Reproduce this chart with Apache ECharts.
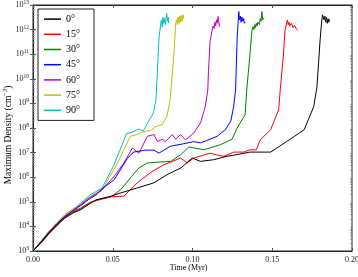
<!DOCTYPE html>
<html><head><meta charset="utf-8">
<script src="https://cdn.jsdelivr.net/npm/echarts@6/dist/echarts.min.js"></script>
<style>html,body{margin:0;padding:0;background:#fff}#c{width:358px;height:277px}</style>
</head><body><div id="c"></div>
<script>
const xTicks = [0, 0.05, 0.10, 0.15, 0.20];
const yMinorTicks = [];
for (let e = 3; e < 13; e++) for (let m = 2; m <= 9; m++) yMinorTicks.push(m * Math.pow(10, e));

const names = ['0°', '15°', '30°', '45°', '60°', '75°', '90°'];
const colors = ['#000000', '#ff0000', '#008000', '#0000ff', '#bf00bf', '#bfbf00', '#00bfbf'];

const t0 =   [0,0.005,0.01,0.015,0.02,0.025,0.03,0.035,0.0395,0.049,0.055,0.065,0.0758,0.084,0.0928,0.0998,0.105,0.113,0.1217,0.1258,0.136,0.149,0.159,0.17,0.176,0.178,0.18,0.181,0.1815,0.182,0.1825,0.183,0.1835,0.184,0.1845,0.185,0.1855,0.186];
const d0 =   [1e3,2.2e3,5.2e3,1.1e4,2.2e4,3.5e4,4.8e4,7.9e4,1.2e5,1.7e5,2.3e5,3.6e5,5.9e5,1.26e6,2.4e6,6.0e6,4.4e6,5.1e6,7.1e6,7.8e6,1.05e7,1.05e7,2.8e7,8.5e7,7.4e8,4.5e9,3.8e11,2.2e12,4.0e12,4.8e12,2.5e12,3.5e12,2.0e12,3.2e12,1.8e12,2.8e12,2.0e12,2.6e12];

const t15 =  [0,0.005,0.01,0.015,0.02,0.025,0.03,0.035,0.038,0.049,0.057,0.0654,0.074,0.082,0.0925,0.0967,0.1008,0.111,0.115,0.1196,0.126,0.132,0.136,0.14,0.1425,0.149,0.154,0.155,0.157,0.158,0.1595,0.16,0.1605,0.161,0.162,0.163,0.164,0.165,0.166];
const d15 =  [1e3,2.1e3,5.0e3,1.1e4,2.3e4,4.0e4,5.6e4,8.9e4,1.05e5,1.6e5,1.7e5,5.9e5,1.6e6,3.2e6,6.0e6,3.8e6,6.0e6,9.5e6,8.1e6,7.1e6,1.05e7,1.05e7,1.3e7,1.3e7,3.3e7,8.5e7,5.5e8,3.5e9,9.3e10,9.5e11,2.45e12,1.6e12,2.0e12,1.4e12,1.8e12,1.2e12,1.5e12,1.1e12,9.5e11];

const t30 =  [0,0.005,0.01,0.015,0.02,0.025,0.03,0.035,0.04,0.049,0.055,0.061,0.0665,0.0717,0.0863,0.0925,0.0977,0.107,0.1154,0.1175,0.1217,0.1248,0.128,0.133,0.134,0.136,0.1373,0.138,0.1385,0.139,0.1395,0.14,0.1405,0.141,0.142,0.1425,0.143,0.1435,0.144,0.1446];
const d30 =  [1e3,2.2e3,5.4e3,1.17e4,2.3e4,3.8e4,5.2e4,8.5e4,1.2e5,1.6e5,3.1e5,9.3e5,2.4e6,3.8e6,4.4e6,8.1e6,1.7e7,1.3e7,1.9e7,2.1e7,2.8e7,3.5e7,1.0e8,3.5e8,3.5e9,9.3e10,9.5e11,1.3e12,1.0e12,1.6e12,1.2e12,1.8e12,1.4e12,2.0e12,1.6e12,2.8e12,2.2e12,5.4e12,2.5e12,2.9e12];

const t45 =  [0,0.005,0.01,0.015,0.02,0.025,0.03,0.035,0.04,0.0425,0.051,0.059,0.063,0.0706,0.0758,0.079,0.086,0.0946,0.1008,0.105,0.109,0.1154,0.1206,0.124,0.1258,0.127,0.128,0.129,0.1295,0.13,0.1305,0.131,0.1315,0.132,0.1325,0.133];
const d45 =  [1e3,2.3e3,5.6e3,1.26e4,2.5e4,4.2e4,7.1e4,1.26e5,2.0e5,3.1e5,8.0e5,5.6e6,1.05e7,1.26e7,1.26e7,9.5e6,1.8e7,2.3e7,2.8e7,2.5e7,3.1e7,4.6e7,8.5e7,1.9e8,7.4e8,3.5e9,4.5e11,5.4e12,2.5e12,3.5e12,2.0e12,3.2e12,2.2e12,2.8e12,1.8e12,2.0e12];

const t60 =  [0,0.005,0.01,0.015,0.02,0.025,0.03,0.035,0.04,0.0425,0.0508,0.057,0.0623,0.0664,0.0717,0.0758,0.078,0.081,0.083,0.0873,0.0894,0.0925,0.0956,0.1008,0.105,0.108,0.1096,0.11,0.111,0.1123,0.113,0.1135,0.114,0.1145,0.115,0.1155,0.116,0.1165,0.117];
const d60 =  [1e3,2.4e3,5.9e3,1.3e4,2.6e4,4.5e4,7.6e4,1.4e5,2.2e5,2.7e5,1.07e6,3.8e6,1.55e7,9.5e6,4.6e7,5.4e7,2.8e7,3.5e7,2.8e7,5.4e7,3.5e7,5.4e7,3.3e7,6.3e7,1.6e8,7.4e8,3.5e9,1.95e10,3.2e11,9.5e11,1.4e12,1.1e12,2.0e12,1.4e12,2.5e12,1.8e12,3.4e12,2.0e12,1.3e12];

const t75 =  [0,0.005,0.01,0.015,0.02,0.025,0.03,0.036,0.0435,0.053,0.057,0.061,0.0654,0.0696,0.0737,0.077,0.081,0.084,0.086,0.0883,0.0894,0.09,0.0905,0.091,0.0915,0.092,0.0925,0.093,0.0935,0.094,0.0946];
const d75 =  [1e3,2.5e3,6.3e3,1.4e4,2.8e4,4.8e4,8.3e4,1.66e5,3.1e5,3.8e6,1.3e7,4.6e7,5.4e7,7.2e7,7.8e7,1.15e8,1.35e8,3.0e8,1.4e9,9.3e10,1.55e12,2.5e12,1.6e12,3.2e12,1.8e12,3.5e12,2.0e12,3.8e12,2.2e12,4.0e12,2.8e12];

const t90 =  [0,0.005,0.01,0.015,0.02,0.025,0.03,0.0357,0.0431,0.0503,0.0545,0.0587,0.0619,0.066,0.0692,0.0723,0.0754,0.0771,0.079,0.08,0.0805,0.081,0.0815,0.082,0.0825,0.083,0.0838,0.0843,0.0848,0.085];
const d90 =  [1e3,2.5e3,6.3e3,1.4e4,3.0e4,5.0e4,8.9e4,1.9e5,3.5e5,2.7e6,1.26e7,6.0e7,6.6e7,9.1e7,7.6e7,1.8e8,4.0e8,1.4e9,4.5e11,1.55e12,2.5e12,1.3e12,3.2e12,1.8e12,2.8e12,1.6e12,4.6e12,2.2e12,3.2e12,1.8e12];

const times = [t0, t15, t30, t45, t60, t75, t90];
const dens = [d0, d15, d30, d45, d60, d75, d90];

const FONT = 'Liberation Serif';
const chart = echarts.init(document.getElementById('c'), null, {renderer: 'canvas'});

const series = names.map((n, i) => ({
  name: n, type: 'line', symbol: 'none', showSymbol: false,
  data: times[i].map((t, k) => [t, dens[i][k]]),
  lineStyle: {width: 1, color: colors[i]}, itemStyle: {color: colors[i]},
  z: 10 - i, animation: false
}));

const supFmt = v => '10{s|' + Math.round(Math.log10(v)) + '}';

chart.setOption({
  animation: false,
  textStyle: {fontFamily: FONT},
  grid: {left: 33, right: 6, top: 5, bottom: 26, show: true, borderColor: '#222', borderWidth: 1,
         containLabel: false, outerBoundsMode: 'none'},
  legend: {
    orient: 'vertical', left: 38, top: 9,
    icon: 'rect', itemWidth: 17, itemHeight: 1.5, itemGap: 5,
    padding: [5, 14, 5, 6],
    borderColor: '#222', borderWidth: 1,
    textStyle: {fontFamily: FONT, fontSize: 10, color: '#000', lineHeight: 10.2},
    data: names
  },
  xAxis: [{
    type: 'value', min: 0, max: 0.2, interval: 0.05,
    name: 'Time (Myr)', nameLocation: 'middle', nameGap: 13, nameMoveOverlap: false,
    nameTextStyle: {fontFamily: FONT, fontSize: 8, color: '#000', verticalAlign: 'top', padding: [0, 8, 0, 0]},
    axisLine: {show: true, lineStyle: {color: '#222'}},
    axisTick: {inside: true, length: 3, lineStyle: {color: '#555'}},
    axisLabel: {fontFamily: FONT, fontSize: 8, color: '#222', margin: 5, formatter: v => v.toFixed(2)},
    splitLine: {show: false}
  }, {
    type: 'value', min: 0, max: 0.2, interval: 0.05, position: 'top',
    axisLine: {show: true, lineStyle: {color: '#222'}},
    axisTick: {inside: true, length: 3, lineStyle: {color: '#555'}},
    axisLabel: {show: false}, splitLine: {show: false}
  }],
  yAxis: [{
    type: 'log', min: 1e3, max: 1e13, logBase: 10,
    name: 'Maximum Density (cm{s|−3})', nameLocation: 'middle', nameGap: 19, nameRotate: 90, nameMoveOverlap: false,
    nameTextStyle: {fontFamily: FONT, fontSize: 9.5, color: '#000', padding: [0, 14, 0, 0],
      rich: {s: {fontFamily: FONT, fontSize: 6.5, verticalAlign: 'top', padding: [0, 0, 5, 0]}}},
    axisLine: {show: true, lineStyle: {color: '#222'}},
    axisTick: {inside: true, length: 3, lineStyle: {color: '#555'}},
    axisLabel: {fontFamily: FONT, fontSize: 8, color: '#222', margin: 4, formatter: supFmt,
      rich: {s: {fontFamily: FONT, fontSize: 5.5, verticalAlign: 'top', padding: [0, 0, 5, 0]}}},
    splitLine: {show: false}
  }, {
    type: 'log', min: 1e3, max: 1e13, logBase: 10, position: 'right',
    axisLine: {show: true, lineStyle: {color: '#222'}},
    axisTick: {inside: true, length: 3, lineStyle: {color: '#555'}},
    axisLabel: {show: false}, splitLine: {show: false}
  }, {
    type: 'log', min: 1e3, max: 1e13, logBase: 10, position: 'left',
    axisLine: {show: false},
    axisTick: {inside: true, length: 1.5, customValues: yMinorTicks, lineStyle: {color: '#777'}},
    axisLabel: {show: false}, splitLine: {show: false}
  }, {
    type: 'log', min: 1e3, max: 1e13, logBase: 10, position: 'right',
    axisLine: {show: false},
    axisTick: {inside: true, length: 1.5, customValues: yMinorTicks, lineStyle: {color: '#777'}},
    axisLabel: {show: false}, splitLine: {show: false}
  }],
  series: series
});
</script>
</body></html>
